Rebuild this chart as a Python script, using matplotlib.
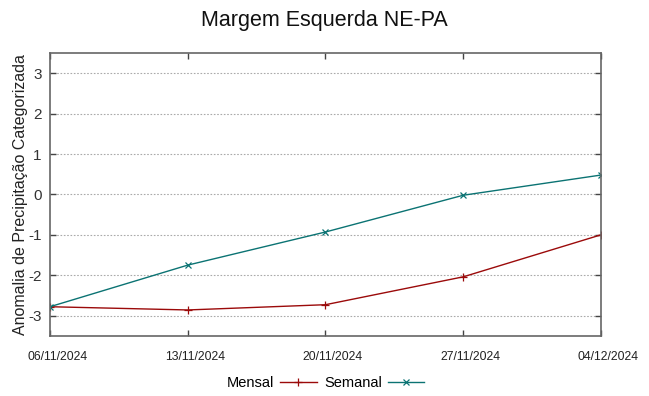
import matplotlib
matplotlib.use("Agg")
import matplotlib.pyplot as plt
import matplotlib.transforms as mtransforms

dates = ["06/11/2024", "13/11/2024", "20/11/2024", "27/11/2024", "04/12/2024"]
mensal = [-2.78, -2.86, -2.73, -2.04, -1.0]
semanal = [-2.78, -1.75, -0.93, -0.02, 0.48]
yticks = [-3, -2, -1, 0, 1, 2, 3]

plt.rcParams['font.family'] = ['Liberation Sans', 'DejaVu Sans']

fig = plt.figure(figsize=(6.49, 3.96), dpi=100)
ax = fig.add_axes([0.077, 0.152, 0.849, 0.714])
x = list(range(len(dates)))
ax.plot(x, mensal, color='#9b0a0a', lw=1.0, marker='+', ms=6, mew=0.9, label='Mensal')
ax.plot(x, semanal, color='#0b7373', lw=1.0, marker='x', ms=5, mew=0.9, label='Semanal')

ax.set_xlim(0, len(dates) - 1)
ax.set_ylim(-3.5, 3.5)
ax.set_xticks(x)
ax.set_xticklabels(dates, family=['Liberation Sans Narrow', 'Liberation Sans'], fontsize=8.8, color='#222222')
ax.set_yticks(yticks)
ax.set_yticklabels([str(v) for v in yticks], fontsize=11, color='#333333')
ax.tick_params(direction='in', top=True, right=True, length=4, color='#444444', width=1)
ax.tick_params(axis='x', pad=11)
ax.tick_params(axis='y', pad=6)
offset = mtransforms.ScaledTranslation(7.5 / 100, 0, fig.dpi_scale_trans)
for tick in ax.xaxis.get_major_ticks():
    tick.label1.set_transform(tick.label1.get_transform() + offset)
for s in ax.spines.values():
    s.set_color('#666666')
    s.set_linewidth(1.2)
ax.yaxis.grid(True, linestyle=(0, (1.5, 1.5)), color='#aaaaaa', lw=0.8)
ax.set_ylabel('Anomalia de Precipitação Categorizada', fontsize=11.5, color='#222222', labelpad=0)
fig.suptitle('Margem Esquerda NE-PA', fontsize=15.5, y=0.975, color='#111111')

leg = ax.legend(loc='upper center', bbox_to_anchor=(0.5, -0.095), ncol=2, frameon=False,
                prop={'family': ['Liberation Sans Narrow', 'Liberation Sans'], 'size': 10.5},
                markerfirst=False, handlelength=2.5, columnspacing=0.5, handletextpad=0.4)
fig.savefig('out.png', dpi=100)
